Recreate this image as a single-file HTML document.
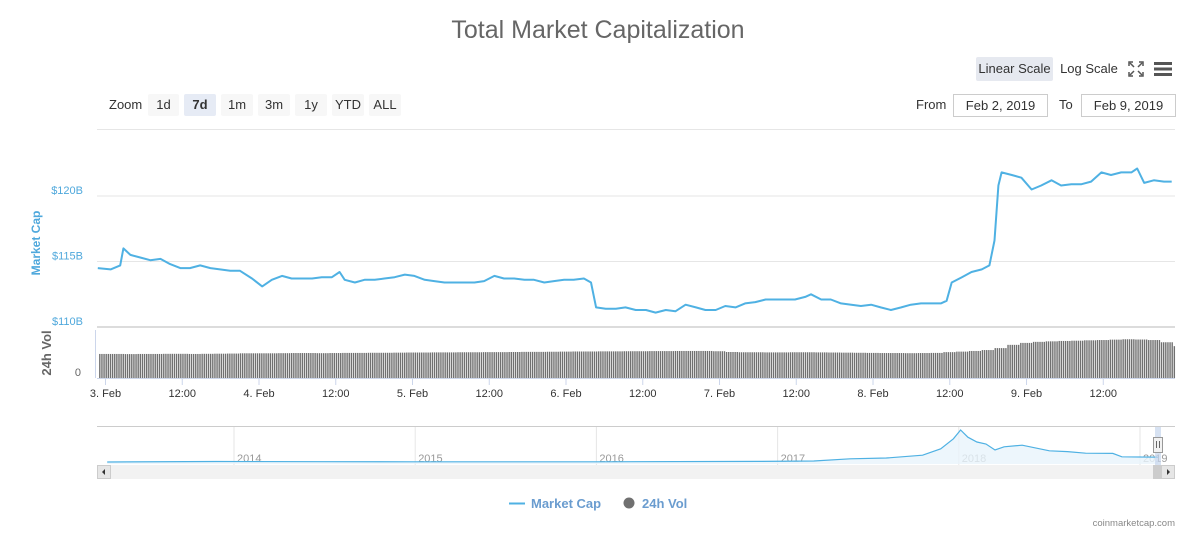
<!DOCTYPE html>
<html><head><meta charset="utf-8">
<style>
body{margin:0;background:#fff;font-family:"Liberation Sans",sans-serif;}
#wrap{position:relative;width:1196px;height:535px;overflow:hidden;}
.abs{position:absolute;}
.btn{position:absolute;top:94px;height:22px;line-height:22px;background:#f7f7f7;color:#333;font-size:13px;text-align:center;border-radius:2px;}
</style></head>
<body>
<div id="wrap">
<div class="abs" style="left:0;width:1196px;top:16px;text-align:center;font-size:25px;color:#666;">Total Market Capitalization</div>
<div class="abs" style="left:976px;top:57px;width:77px;height:24px;line-height:24px;background:#e6e9f0;font-size:13px;color:#333;text-align:center;border-radius:2px;">Linear Scale</div>
<div class="abs" style="left:1058px;top:57px;width:62px;height:24px;line-height:24px;font-size:13px;color:#333;text-align:center;">Log Scale</div>
<svg class="abs" style="left:1128px;top:61px" width="16" height="16"><g stroke="#555" stroke-width="1.5" fill="none"><path d="M1 5V1h4M11 1h4v4M15 11v4h-4M5 15H1v-4"/><path d="M2 2l4 4M14 2l-4 4M14 14l-4-4M2 14l4-4"/></g></svg>
<svg class="abs" style="left:1154px;top:61px" width="18" height="16"><g fill="#555"><rect y="1" width="18" height="3"/><rect y="6.5" width="18" height="3"/><rect y="12" width="18" height="3"/></g></svg>
<div class="abs" style="left:109px;top:97px;font-size:13px;color:#333;">Zoom</div>
<div class="btn" style="left:148px;width:31px">1d</div>
<div class="btn" style="left:184px;width:32px;background:#e6ebf5;font-weight:bold">7d</div>
<div class="btn" style="left:221px;width:32px">1m</div>
<div class="btn" style="left:258px;width:32px">3m</div>
<div class="btn" style="left:295px;width:32px">1y</div>
<div class="btn" style="left:332px;width:32px">YTD</div>
<div class="btn" style="left:369px;width:32px">ALL</div>
<div class="abs" style="left:916px;top:97px;font-size:13px;color:#333;">From</div>
<div class="abs" style="left:953px;top:94px;width:93px;height:21px;line-height:21px;border:1px solid #ccc;font-size:13px;color:#333;text-align:center;">Feb 2, 2019</div>
<div class="abs" style="left:1059px;top:97px;font-size:13px;color:#333;">To</div>
<div class="abs" style="left:1081px;top:94px;width:93px;height:21px;line-height:21px;border:1px solid #ccc;font-size:13px;color:#333;text-align:center;">Feb 9, 2019</div>
<svg id="chart" class="abs" style="left:0;top:0" width="1196" height="535"></svg>
</div>
<script>
const capHours=[-1.2,0.8,2.3,2.8,3.9,5.5,7.0,8.6,10.1,11.7,13.2,14.8,16.4,17.9,19.5,21.0,22.9,24.5,26.0,27.6,29.1,30.7,32.3,33.8,35.4,36.6,37.4,39.0,40.5,42.1,43.6,45.2,46.8,48.3,49.9,51.4,53.0,54.5,56.1,57.7,59.2,60.8,62.3,63.9,65.5,67.0,68.6,70.1,71.7,73.2,74.8,75.9,76.7,78.2,79.8,81.3,82.9,84.5,86.0,87.6,89.1,90.7,92.3,93.8,95.4,96.9,98.5,100.0,101.6,103.2,104.7,106.3,107.8,109.4,110.3,111.9,113.4,115.0,116.6,118.1,119.7,121.2,122.8,124.4,125.9,127.5,129.0,130.6,131.5,132.3,133.9,135.4,137.0,138.2,139.0,139.6,140.1,141.7,143.2,144.8,146.3,147.9,149.4,151.0,152.6,154.1,155.7,157.2,158.8,160.4,161.3,162.4,163.9,165.5,166.7];
const capValues=[114.5,114.4,114.7,116.0,115.5,115.3,115.1,115.2,114.8,114.5,114.5,114.7,114.5,114.4,114.3,114.3,113.7,113.1,113.6,113.9,113.7,113.7,113.7,113.8,113.8,114.2,113.6,113.4,113.6,113.6,113.7,113.8,114.0,113.9,113.6,113.5,113.4,113.4,113.4,113.4,113.5,113.9,113.7,113.7,113.6,113.6,113.4,113.5,113.6,113.6,113.7,113.4,111.5,111.4,111.4,111.5,111.3,111.3,111.1,111.3,111.2,111.7,111.5,111.3,111.3,111.6,111.5,111.8,111.9,112.1,112.1,112.1,112.1,112.3,112.5,112.1,112.1,111.8,111.7,111.6,111.7,111.5,111.3,111.5,111.7,111.8,111.8,111.8,112.0,113.4,113.8,114.2,114.4,114.7,116.6,120.8,121.8,121.6,121.4,120.5,120.8,121.2,120.8,120.9,120.9,121.1,121.8,121.6,121.8,121.8,122.1,121.0,121.2,121.1,121.1];
const volValues=[18.5,18.5,18.4,18.5,18.5,18.6,18.6,18.5,18.6,18.7,18.8,19,19,19,19.1,19.2,19.2,19.1,19.2,19.3,19.3,19.4,19.4,19.5,19.6,19.6,19.7,19.7,19.8,19.8,19.9,19.9,20,20.1,20.1,20.2,20.3,20.4,20.4,20.5,20.5,20.6,20.6,20.7,20.7,20.8,20.8,20.8,20.6,20,19.8,19.8,19.7,19.7,19.8,19.8,19.7,19.6,19.5,19.4,19.3,19.2,19.2,19.1,19.2,19.3,19.9,20.3,20.8,21.5,23,25.5,27,27.8,28.2,28.5,28.7,29,29.2,29.5,29.8,29.6,29.2,27.5,24.5,24.3];
const yTicks=[110,115,120];
const yTickLabels=["$110B","$115B","$120B"];
const xTickHours=[0,12,24,36,48,60,72,84,96,108,120,132,144,156];
const xTickLabels=["3. Feb","12:00","4. Feb","12:00","5. Feb","12:00","6. Feb","12:00","7. Feb","12:00","8. Feb","12:00","9. Feb","12:00"];
const navYears=[2013.3,2013.9,2014.5,2015,2016,2016.9,2017.2,2017.4,2017.6,2017.8,2017.9,2017.97,2018.01,2018.05,2018.1,2018.15,2018.2,2018.25,2018.35,2018.5,2018.6,2018.7,2018.85,2018.9,2019.0,2019.1];
const navValues=[1,12,8,5,6,15,25,80,100,170,330,580,800,620,500,450,300,380,420,280,260,220,215,130,125,120];
const navTickYears=[2014,2015,2016,2017,2018,2019];

const svg=document.getElementById('chart');
const NS='http://www.w3.org/2000/svg';
function mk(t,a,p){const e=document.createElementNS(NS,t);for(const k in a)e.setAttribute(k,a[k]);(p||svg).appendChild(e);return e;}
const X0=97,X1=1175;
const xH=h=>105.5+h*6.396;
const yC=v=>327-(v-110)*13.1;
const yV=v=>378-v*1.3;
const xN=yr=>234+(yr-2014)*181.2;
const yN=v=>462-v*32/800;

yTicks.forEach((t,i)=>{
  if(i>0){const g=mk('line',{x1:X0,x2:X1,y1:yC(t),y2:yC(t),stroke:'#e6e6e6'});
  
  }
  const l=mk('text',{x:83,y:yC(t)-2,'text-anchor':'end','font-size':11,fill:'#4fa8dc'});
  
  
  l.textContent=yTickLabels[i];
});
const topGrid=mk('line',{x1:X0,x2:X1,y1:129.5,y2:129.5,stroke:'#e6e6e6'});


const sep=mk('rect',{x:X0,y:326,width:X1-X0,height:2,fill:'#dcdcdc'});


const yt=mk('text',{x:0,y:0,transform:'translate(40,243) rotate(-90)','text-anchor':'middle','font-size':12,'font-weight':'bold',fill:'#4fa8dc'});


yt.textContent='Market Cap';
const vt=mk('text',{x:0,y:0,transform:'translate(51,353) rotate(-90)','text-anchor':'middle','font-size':13,'font-weight':'bold',fill:'#666'});


vt.textContent='24h Vol';
const v0=mk('text',{x:81,y:376,'text-anchor':'end','font-size':11,fill:'#666'});


v0.textContent='0';
const va=mk('line',{x1:95.5,x2:95.5,y1:330,y2:378,stroke:'#ccd6eb'});



const vg=mk('g',{fill:'#707070'});


volValues.forEach((v,i)=>{
  const h0=-1+2*i;
  for(let k=0;k<6;k++){
    const x=xH(h0+k/3);
    if(x<98||x>1174)continue;
    const r=mk('rect',{x:x,y:yV(v),width:1.4,height:378-yV(v)},vg);
    
    
  }
});
const xa=mk('line',{x1:X0,x2:X1,y1:378.5,y2:378.5,stroke:'#ccd6eb'});


xTickHours.forEach((h,i)=>{
  const x=xH(h);
  const t=mk('line',{x1:x,x2:x,y1:379,y2:385,stroke:'#ccd6eb'});
  
  
  const l=mk('text',{x:x,y:397,'text-anchor':'middle','font-size':11,fill:'#333'});
  
  
  l.textContent=xTickLabels[i];
});
let d='';
capHours.forEach((h,i)=>{d+=(i?'L':'M')+Math.max(X0,xH(h)).toFixed(1)+','+yC(capValues[i]).toFixed(1);});
const ln=mk('path',{d:d,fill:'none',stroke:'#4fb1e3','stroke-width':2,'stroke-linejoin':'round'});



const nb=mk('line',{x1:X0,x2:X1,y1:426.5,y2:426.5,stroke:'#ccc'});


navTickYears.forEach(y=>{
  const x=xN(y);
  const g=mk('line',{x1:x,x2:x,y1:427,y2:465,stroke:'#e6e6e6'});
  
  
  const l=mk('text',{x:x+3,y:462,'font-size':11,fill:'#999'});
  
  
  l.textContent=y;
});
let nd='';
navYears.forEach((y,i)=>{nd+=(i?'L':'M')+xN(y).toFixed(1)+','+yN(navValues[i]).toFixed(1);});
const na=mk('path',{d:nd+'L'+xN(navYears[navYears.length-1])+',464L'+xN(navYears[0])+',464Z',fill:'#e8f4fb','fill-opacity':0.8});


const nl=mk('path',{d:nd,fill:'none',stroke:'#4fb1e3','stroke-width':1.2});


const sel=mk('rect',{x:1155,y:427,width:6,height:38,fill:'#c6d6ec','fill-opacity':0.7});


const hd=mk('rect',{x:1153.5,y:437.5,width:9,height:15,fill:'#f2f2f2',stroke:'#999'});


mk('path',{d:'M1156.5,441v7M1159.5,441v7',stroke:'#666'});
const sb=mk('rect',{x:97,y:465,width:1078,height:14,fill:'#f2f2f2'});


const sbl=mk('rect',{x:97.5,y:465.5,width:13,height:13,fill:'#e6e6e6',stroke:'#ccc'});


mk('path',{d:'M102,472l3,-3v6z',fill:'#333'});
const sth=mk('rect',{x:1153,y:465,width:8,height:14,fill:'#ccc'});


const sbr=mk('rect',{x:1161.5,y:465.5,width:13,height:13,fill:'#e6e6e6',stroke:'#ccc'});


mk('path',{d:'M1170,472l-3,-3v6z',fill:'#333'});

const lg=mk('g',{});


const l1=mk('g',{},lg);


mk('line',{x1:509,x2:525,y1:503.5,y2:503.5,stroke:'#4fb1e3','stroke-width':2},l1);
const t1=mk('text',{x:531,y:508,'font-size':13,'font-weight':'bold',fill:'#6a9ccf'},l1);t1.textContent='Market Cap';
const l2=mk('g',{},lg);


mk('circle',{cx:629,cy:503,r:5.5,fill:'#707070'},l2);
const t2=mk('text',{x:642,y:508,'font-size':13,'font-weight':'bold',fill:'#6a9ccf'},l2);t2.textContent='24h Vol';
const cr=mk('text',{x:1175,y:526,'text-anchor':'end','font-size':9.5,fill:'#888'});


cr.textContent='coinmarketcap.com';
</script>
</body></html>
